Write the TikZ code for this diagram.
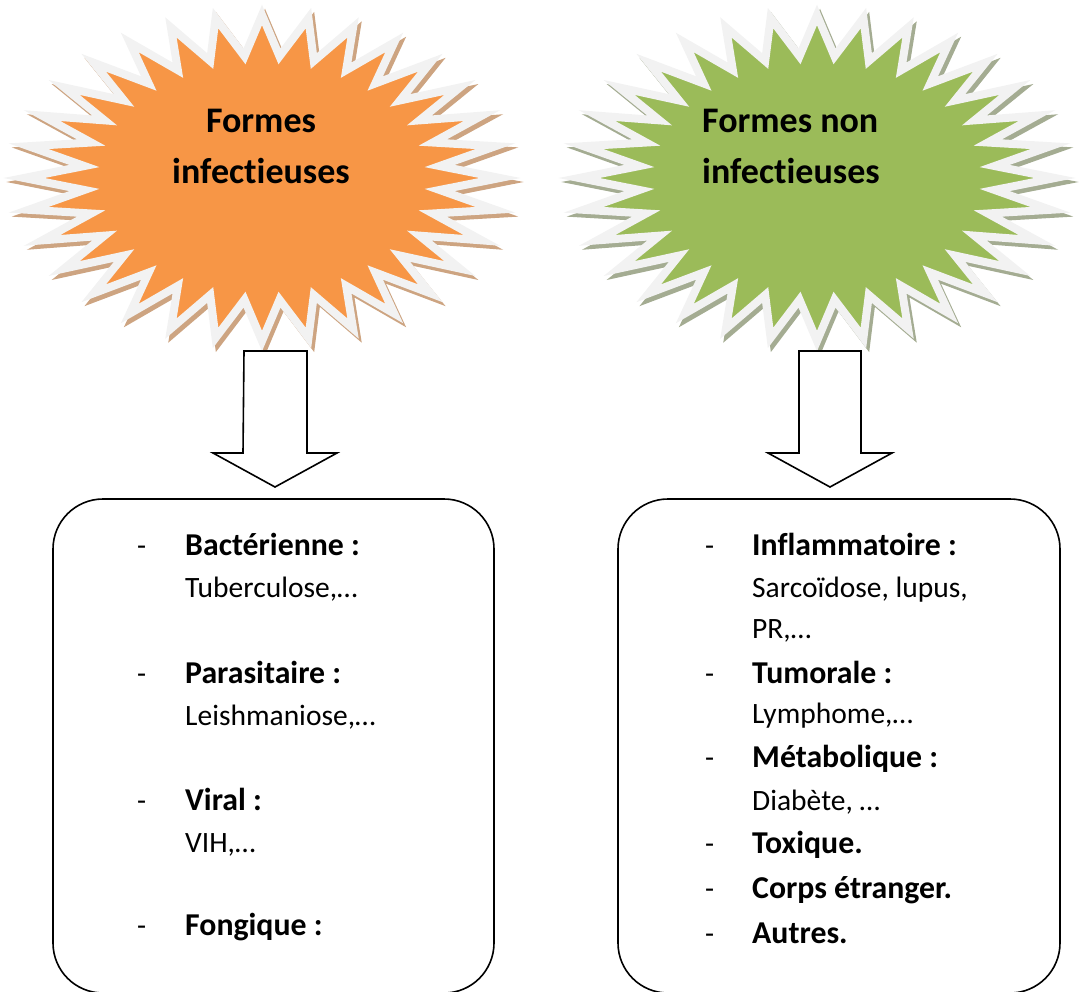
\documentclass[tikz,border=0pt]{standalone}
\usepackage{fontspec}
\setmainfont{Carlito}[Ligatures={NoCommon}]
\definecolor{burstorange}{HTML}{F79646}
\definecolor{burstgreen}{HTML}{9BBB59}
\definecolor{rimgray}{HTML}{F2F2F2}
\definecolor{shadowtan}{HTML}{CDA481}
\definecolor{shadowsage}{HTML}{A4AC92}
\tikzset{
  rim/.style={draw=rimgray, line width=8pt, line join=miter, miter limit=12},
  burstshadow/.style={line width=8pt, line join=miter, miter limit=12, xshift=3pt, yshift=-4pt},
  blockarrow/.style={draw=black, fill=white, line width=1.6pt, line join=miter},
  listbox/.style={draw=black, line width=1.6pt, rounded corners=50pt},
  titletext/.style={inner sep=0pt, font=\fontsize{36}{40}\selectfont\bfseries},
  itemtext/.style={inner sep=0pt, anchor=base west, font=\fontsize{29.5}{34}\selectfont},
  itemhead/.style={itemtext, font=\fontsize{31.8}{36}\selectfont\bfseries},
}
% 32-point star inscribed in an ellipse: name, centre x, centre y, fill, shadow
\newcommand\starburst[5]{%
  \filldraw[burstshadow, draw=#5, fill=#5]
    plot[samples at={0,...,63}, variable=\k]
    ({#2+238*(1-0.25*mod(\k,2))*cos(90-5.625*\k)},{#3-163*(1-0.25*mod(\k,2))*sin(90-5.625*\k)}) -- cycle;
  \filldraw[rim, fill=#4]
    plot[samples at={0,...,63}, variable=\k]
    ({#2+238*(1-0.25*mod(\k,2))*cos(90-5.625*\k)},{#3-163*(1-0.25*mod(\k,2))*sin(90-5.625*\k)}) -- cycle;
  \coordinate (#1) at (#2,#3);
}
\begin{document}
\begin{tikzpicture}[x=1pt, y=-1pt]
\useasboundingbox (0,0) rectangle (1082,991);

% starbursts
\starburst{burstL}{262}{178}{burstorange}{shadowtan}
\starburst{burstR}{817}{178}{burstgreen}{shadowsage}

\node[titletext, anchor=base] (tL1) at (261,132) {Formes};
\node[titletext, anchor=base] (tL2) at (261,183) {infectieuses};
\node[titletext, anchor=base west] (tR1) at (702,132) {Formes non};
\node[titletext, anchor=base west] (tR2) at (702,183) {infectieuses};

% block arrows
\coordinate (arrL) at (275.5,351);
\coordinate (arrR) at (830,351);
\draw[blockarrow] (arrL) ++(-31.5,0) -- ++(63,0) -- ++(0,102) -- ++(30,0)
  -- ++(-62,34) -- ++(-62,-34) -- ++(30,0) -- cycle;
\draw[blockarrow] (arrR) ++(-31,0) -- ++(62,0) -- ++(0,102) -- ++(31,0)
  -- ++(-62,34) -- ++(-62,-34) -- ++(31,0) -- cycle;

% list boxes
\draw[listbox] (53,499) rectangle (494,993);
\draw[listbox] (618,499) rectangle (1060,993);

% left list
\foreach \y/\n in {555/a,683/b,810/c,935/d}
  \node[itemtext] (dL\n) at (137,\y) {-};
\node[itemhead] (hL1) at (185,555) {Bactérienne :};
\node[itemtext] (sL1) at (185,597) {Tuberculose,…};
\node[itemhead] (hL2) at (185,683) {Parasitaire :};
\node[itemtext] (sL2) at (185,725) {Leishmaniose,…};
\node[itemhead] (hL3) at (185,810) {Viral :};
\node[itemtext] (sL3) at (185,852) {VIH,…};
\node[itemhead] (hL4) at (185,935) {Fongique :};

% right list
\foreach \y/\n in {555/a,683/b,767/c,853/d,898/e,943/f}
  \node[itemtext] (dR\n) at (705,\y) {-};
\node[itemhead] (hR1) at (752,555) {Inflammatoire :};
\node[itemtext] (sR1) at (752,597) {Sarcoïdose, lupus,};
\node[itemtext] (sR1b) at (752,638) {PR,…};
\node[itemhead] (hR2) at (752,683) {Tumorale :};
\node[itemtext] (sR2) at (752,723) {Lymphome,…};
\node[itemhead] (hR3) at (752,767) {Métabolique :};
\node[itemtext] (sR3) at (752,810) {Diabète, …};
\node[itemhead] (hR4) at (752,853) {Toxique.};
\node[itemhead] (hR5) at (752,898) {Corps étranger.};
\node[itemhead] (hR6) at (752,943) {Autres.};
\end{tikzpicture}
\end{document}
